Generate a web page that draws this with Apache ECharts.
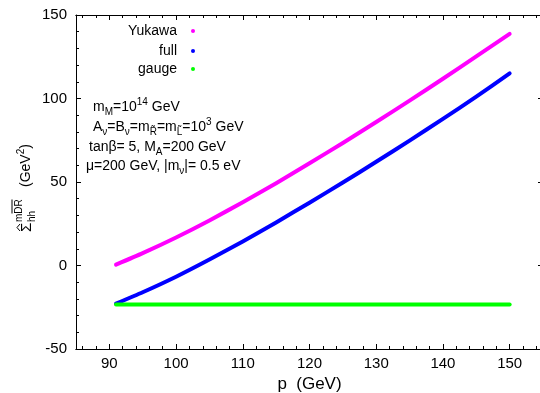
<!DOCTYPE html>
<html>
<head>
<meta charset="utf-8">
<script src="https://cdn.jsdelivr.net/npm/echarts@6/dist/echarts.min.js"></script>
<style>
html, body { margin: 0; padding: 0; background: #fff; }
#chart { width: 540px; height: 393px; }
</style>
</head>
<body>
<div id="chart"></div>
<script>
// values
const pValues = [91, 95, 100, 105, 110, 115, 120, 125, 130, 135, 140, 145, 150];
const yukawa = [0.5, 7.4, 16.8, 27, 37.9, 49.3, 61.2, 73.4, 85.9, 98.7, 111.8, 125.2, 138.7];
const full = [-22.8, -16, -6.7, 3.6, 14.4, 25.8, 37.6, 49.7, 62.1, 74.8, 87.8, 101.1, 115];
const gauge = [-23.3, -23.3, -23.3, -23.3, -23.3, -23.3, -23.3, -23.3, -23.3, -23.3, -23.3, -23.3, -23.3];
const xMajorTicks = [90, 100, 110, 120, 130, 140, 150];
const xMinorTicks = [86, 88, 92, 94, 96, 98, 102, 104, 106, 108, 112, 114, 116, 118, 122, 124, 126, 128, 132, 134, 136, 138, 142, 144, 146, 148, 152, 154];

const font = 'Liberation Sans, Arial, sans-serif';

let pairs = (ys) => pValues.map((p, i) => [p, ys[i]]);

let xAx = (gridIndex, position, ticks, len, showLabel) => {
    return {
        type: 'value',
        gridIndex: gridIndex,
        position: position,
        min: 85,
        max: 155,
        axisLine: { show: true, onZero: false, lineStyle: { color: '#000', width: 1 } },
        axisTick: { show: true, inside: true, length: len, customValues: ticks, lineStyle: { color: '#000' } },
        axisLabel: showLabel ? {
            show: true, customValues: ticks, color: '#000', fontSize: 15, fontFamily: font, margin: 7
        } : { show: false },
        splitLine: { show: false }
    }
}

let yAx = (gridIndex, position, showLabel) => {
    return {
        type: 'value',
        gridIndex: gridIndex,
        position: position,
        min: -50,
        max: 150,
        interval: 50,
        axisLine: { show: true, onZero: false, lineStyle: { color: '#000', width: 1 } },
        axisTick: { show: true, inside: true, length: 5, lineStyle: { color: '#000' } },
        minorTick: { show: true, splitNumber: 5, length: 3, lineStyle: { color: '#000' } },
        axisLabel: { show: showLabel, color: '#000', fontSize: 15, fontFamily: font, margin: 9 },
        splitLine: { show: false }
    }
}

let legendAt = (name, top) => {
    return {
        data: [name],
        orient: 'vertical',
        align: 'right',
        right: 345,
        top: top,
        padding: 0,
        icon: 'circle',
        itemWidth: 4,
        itemHeight: 4,
        selectedMode: false,
        textStyle: { color: '#000', fontSize: 14, fontFamily: font, padding: [0, 9, 0, 0] }
    }
}

let rich = {
    sub: { fontSize: 10, fontFamily: font, color: '#000', lineHeight: 12, verticalAlign: 'bottom' },
    sup: { fontSize: 10, fontFamily: font, color: '#000', lineHeight: 12, verticalAlign: 'top' }
}

let note = (x, y, text) => {
    return {
        type: 'text',
        x: x,
        y: y,
        style: {
            text: text,
            fill: '#000',
            font: '14px ' + font,
            lineHeight: 20,
            verticalAlign: 'middle',
            align: 'left',
            rich: rich
        }
    }
}

let lineSeries = (name, ys, color) => {
    return {
        type: 'line',
        name: name,
        xAxisIndex: 0,
        yAxisIndex: 0,
        data: pairs(ys),
        smooth: 0.2,
        showSymbol: false,
        color: color,
        lineStyle: { color: color, width: 4, cap: 'round', join: 'round' }
    }
}

let grid = { left: 76, right: -3, top: 15, bottom: 44, containLabel: false, outerBoundsMode: 'none' };

let chart = echarts.init(document.getElementById('chart'));
chart.setOption({
    animation: false,
    backgroundColor: '#fff',
    grid: [grid, Object.assign({}, grid)],
    xAxis: [
        Object.assign(xAx(0, 'bottom', xMajorTicks, 5, true), {
            name: 'p  (GeV)',
            nameLocation: 'middle',
            nameGap: 25,
            nameTextStyle: { color: '#000', fontSize: 17, fontFamily: font }
        }),
        xAx(0, 'top', xMajorTicks, 5, false),
        xAx(1, 'bottom', xMinorTicks, 3, false),
        xAx(1, 'top', xMinorTicks, 3, false)
    ],
    yAxis: [
        yAx(0, 'left', true),
        yAx(0, 'right', false),
        Object.assign(yAx(1, 'left', false), { show: false })
    ],
    legend: [
        legendAt('Yukawa', 24),
        legendAt('full', 44),
        legendAt('gauge', 62)
    ],
    graphic: [
        note(93, 107, 'm{sub|M}=10{sup|14} GeV'),
        note(93, 127, 'A{sub|ν}=B{sub|ν}=m{sub|R̃}=m{sub|L̃}=10{sup|3} GeV'),
        note(89, 147, 'tanβ= 5, M{sub|A}=200 GeV'),
        note(86, 166, 'μ=200 GeV, |m{sub|ν}|= 0.5 eV'),
        {
            type: 'group',
            x: 27,
            y: 183,
            rotation: Math.PI / 2,
            children: [
                { type: 'text', x: -49, y: 0, style: { text: 'Σ', fill: '#000', font: '15px ' + font, verticalAlign: 'middle' } },
                { type: 'polyline', shape: { points: [[-48, -7], [-44.5, -10], [-41, -7]] }, style: { stroke: '#000', lineWidth: 1, fill: null } },
                { type: 'text', x: -39, y: -8, style: { text: 'mDR', fill: '#000', font: '10px ' + font, verticalAlign: 'middle' } },
                { type: 'line', shape: { x1: -30.5, y1: -15, x2: -16.5, y2: -15 }, style: { stroke: '#000', lineWidth: 1 } },
                { type: 'text', x: -39, y: 5, style: { text: 'hh', fill: '#000', font: '10px ' + font, verticalAlign: 'middle' } },
                { type: 'text', x: -4, y: -1, style: { text: '(GeV{sup|2})', fill: '#000', font: '14px ' + font, lineHeight: 20, verticalAlign: 'middle', rich: rich } }
            ]
        }
    ],
    series: [
        lineSeries('Yukawa', yukawa, '#ff00ff'),
        lineSeries('full', full, '#0000ff'),
        lineSeries('gauge', gauge, '#00ff00')
    ]
});
</script>
</body>
</html>
